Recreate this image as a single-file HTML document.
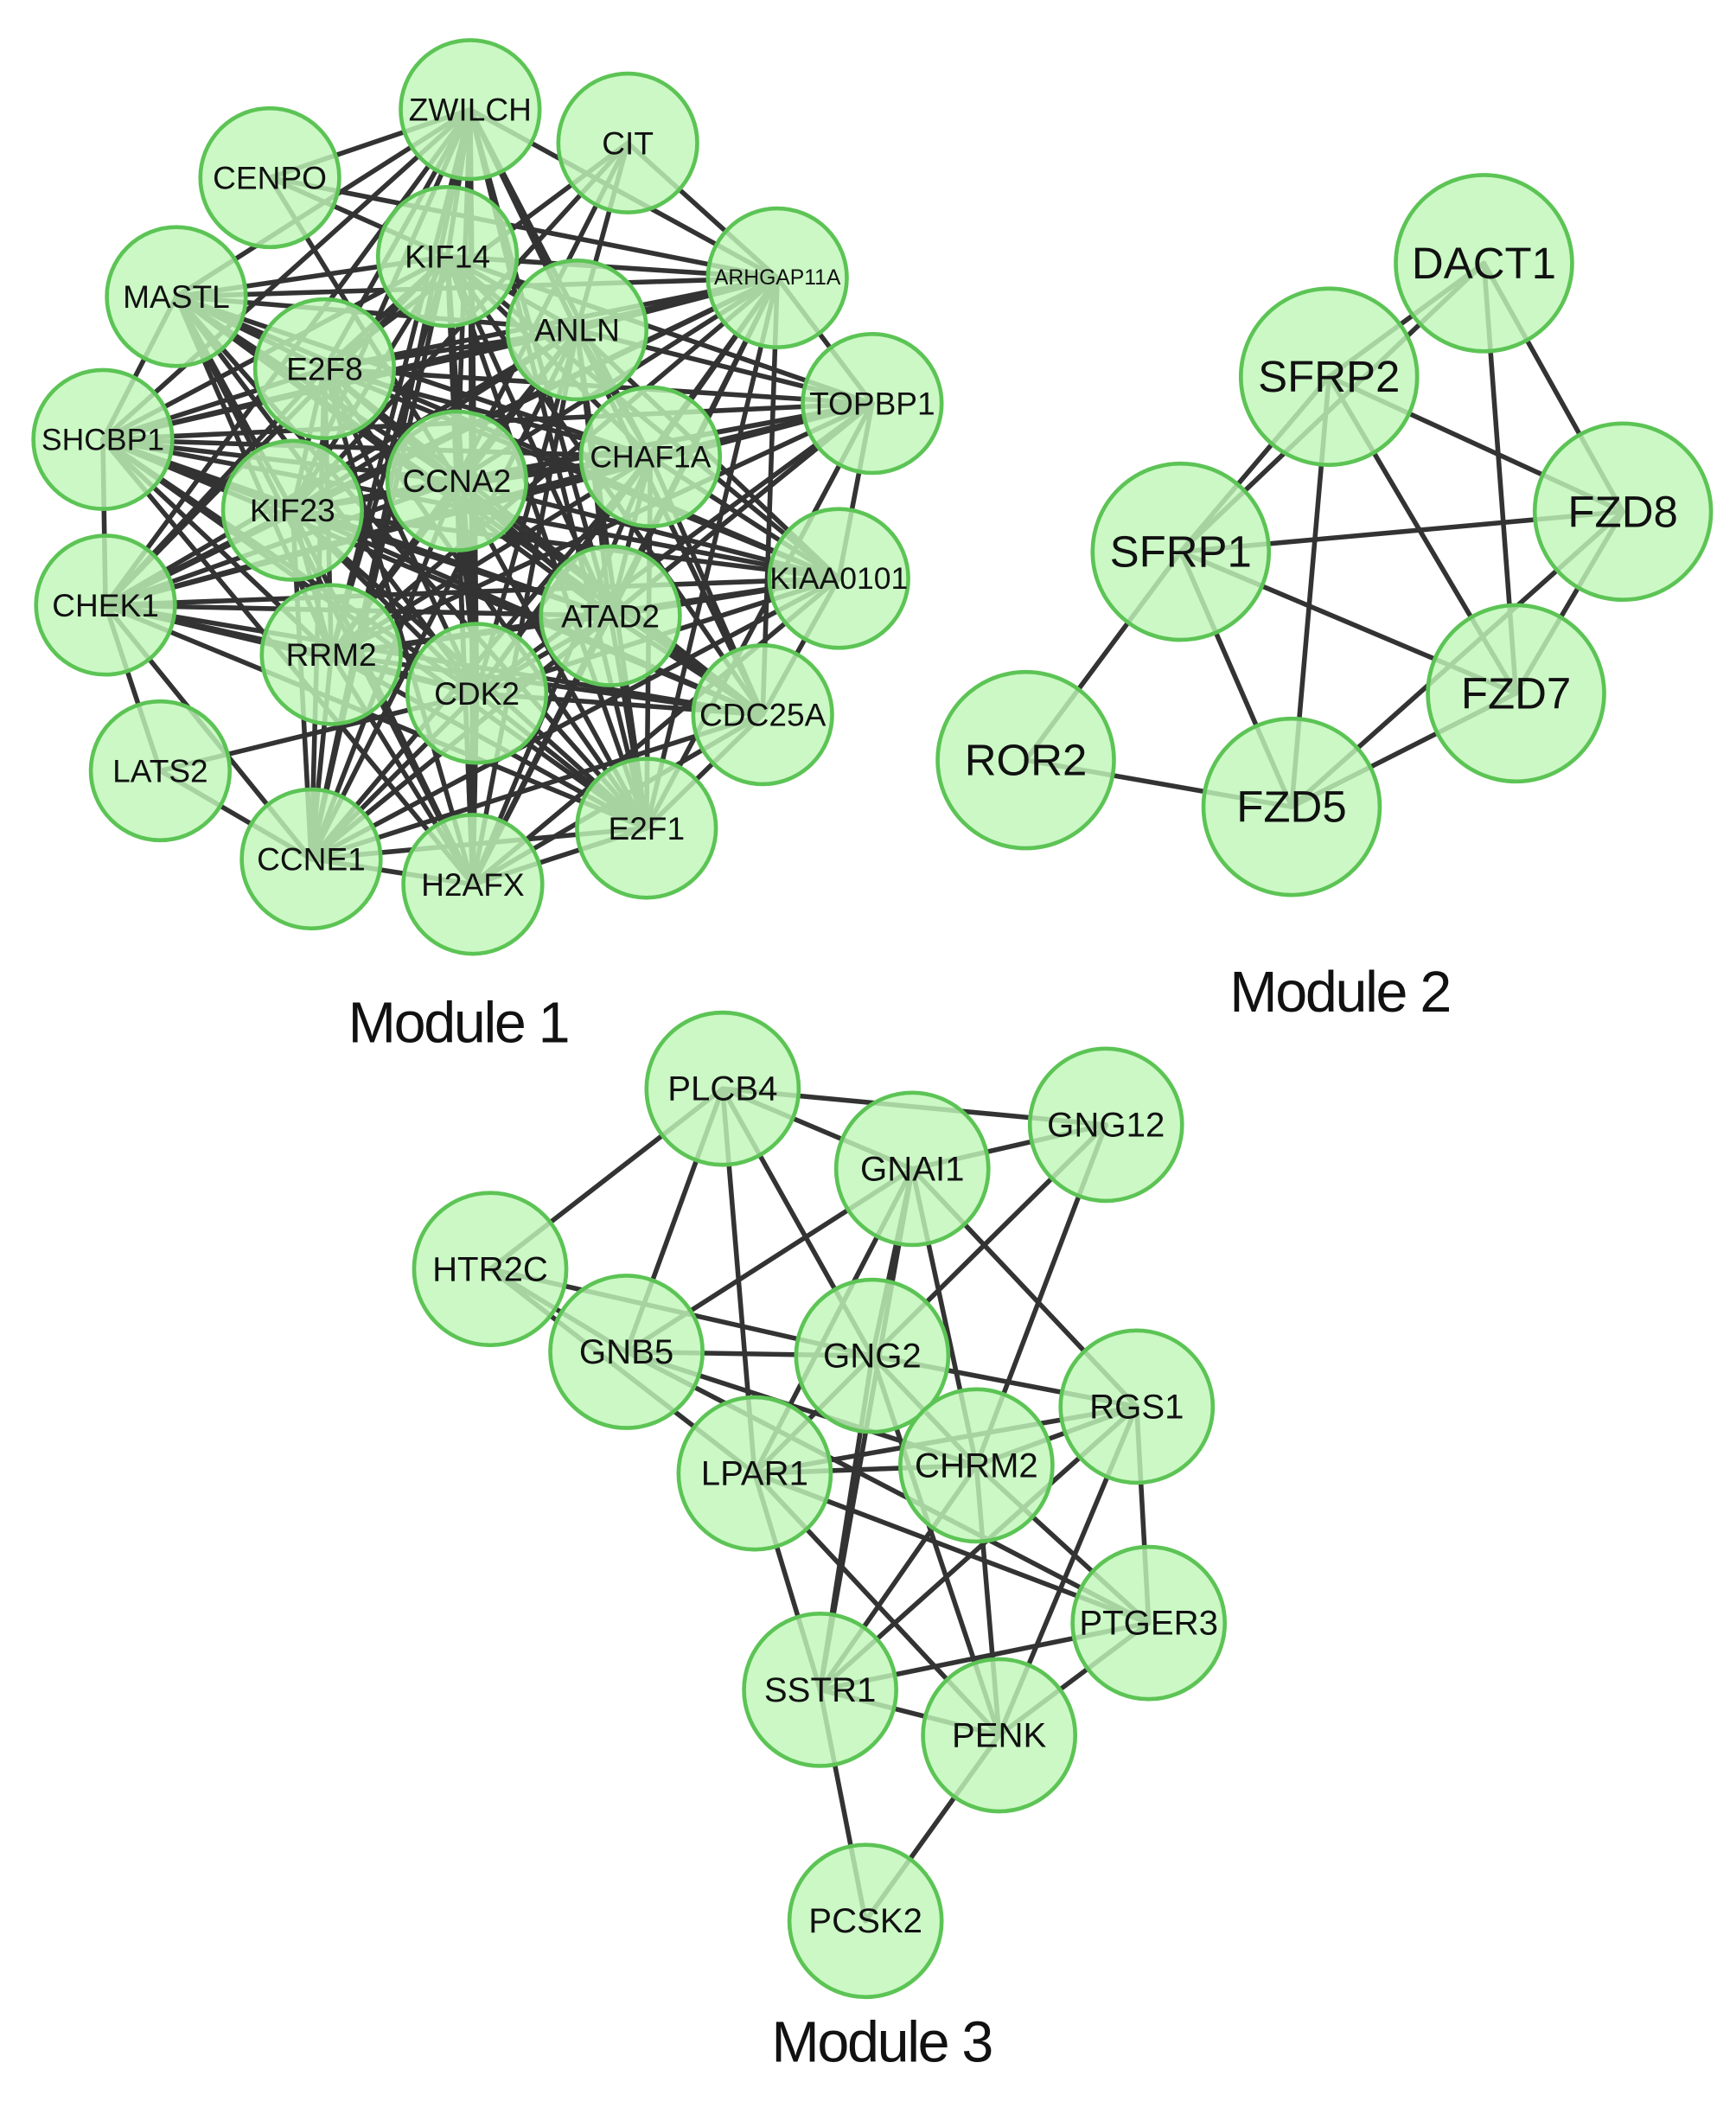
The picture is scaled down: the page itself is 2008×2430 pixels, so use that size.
<!DOCTYPE html>
<html><head><meta charset="utf-8"><style>
html,body{margin:0;padding:0;background:#fff;}
svg{display:block;}
text{font-family:"Liberation Sans",sans-serif;fill:#111;text-anchor:middle;dominant-baseline:central;}
</style></head><body>
<svg id="s" width="2008" height="2430" viewBox="0 0 1299.7 1572.8" xmlns="http://www.w3.org/2000/svg">
<rect width="1299.7" height="1572.8" fill="#fff"/>
<g id="e" stroke="#333" stroke-width="3.6" stroke-linecap="round"></g>
<g id="n"></g>
<text x="343" y="766" style="font-size:43px;letter-spacing:-1.5px">Module 1</text>
<text x="1003" y="743" style="font-size:43px;letter-spacing:-1.5px">Module 2</text>
<text x="660" y="1529" style="font-size:43px;letter-spacing:-1.5px">Module 3</text>
</svg>
<script>
var NS="http://www.w3.org/2000/svg";
var m1={ZWILCH:[352,82],CIT:[470,107],CENPO:[202,133],KIF14:[335,192],ARHGAP11A:[582,208],MASTL:[132,222],ANLN:[432,247],E2F8:[243,276],TOPBP1:[653,302],SHCBP1:[77,329],CHAF1A:[487,342],CCNA2:[342,360],KIF23:[219,382],KIAA0101:[628,433],CHEK1:[79,453],ATAD2:[457,461],RRM2:[248,490],CDK2:[357,519],CDC25A:[571,535],LATS2:[120,577],E2F1:[484,620],CCNE1:[233,643],H2AFX:[354,662]};
var m2={DACT1:[1111,197],SFRP2:[995,282],FZD8:[1215,383],SFRP1:[884,413],FZD7:[1135,519],ROR2:[768,569],FZD5:[967,604]};
var m3={PLCB4:[541,815],GNG12:[828,842],GNAI1:[683,875],HTR2C:[367,950],GNB5:[469,1012],GNG2:[653,1015],RGS1:[851,1053],LPAR1:[565,1103],CHRM2:[731,1097],PTGER3:[860,1215],SSTR1:[614,1265],PENK:[748,1299],PCSK2:[648,1438]};
var inner=["KIF14","ANLN","E2F8","CHAF1A","CCNA2","KIF23","ATAD2","RRM2","CDK2"];
var outer=["ZWILCH","ARHGAP11A","TOPBP1","SHCBP1","MASTL","KIAA0101","CHEK1","CDC25A","E2F1","CCNE1","H2AFX"];
var E1=[];
for(var i=0;i<inner.length;i++){for(var j=i+1;j<inner.length;j++)E1.push([inner[i],inner[j]]);for(var k=0;k<outer.length;k++)E1.push([inner[i],outer[k]]);}
("CENPO-ZWILCH CENPO-KIF14 CENPO-ARHGAP11A CENPO-CCNA2 CIT-ANLN CIT-KIF23 CIT-E2F8 CIT-CCNA2 CIT-ARHGAP11A LATS2-CHEK1 LATS2-CCNE1 LATS2-CDK2 "+
"MASTL-SHCBP1 SHCBP1-CHEK1 CHEK1-CCNE1 CCNE1-H2AFX H2AFX-E2F1 E2F1-CDC25A CDC25A-KIAA0101 KIAA0101-TOPBP1 TOPBP1-ARHGAP11A ZWILCH-ARHGAP11A ZWILCH-MASTL "+
"MASTL-ARHGAP11A SHCBP1-ARHGAP11A SHCBP1-TOPBP1 SHCBP1-KIAA0101 CHEK1-KIAA0101 CHEK1-CDC25A CHEK1-ARHGAP11A CHEK1-TOPBP1 ZWILCH-H2AFX ZWILCH-CCNE1 ZWILCH-E2F1 "+
"ZWILCH-CDC25A ZWILCH-SHCBP1 ZWILCH-CHEK1 ARHGAP11A-CDC25A ARHGAP11A-E2F1 ARHGAP11A-H2AFX TOPBP1-CCNE1 TOPBP1-E2F1 KIAA0101-CCNE1 KIAA0101-H2AFX MASTL-CDC25A "+
"MASTL-KIAA0101 MASTL-H2AFX MASTL-E2F1 SHCBP1-CDC25A SHCBP1-E2F1 CCNE1-CDC25A CCNE1-E2F1 H2AFX-CDC25A CHEK1-E2F1 SHCBP1-H2AFX").split(" ").forEach(function(s){E1.push(s.split("-"));});
var E2="DACT1-SFRP2 DACT1-SFRP1 DACT1-FZD7 DACT1-FZD8 SFRP2-SFRP1 SFRP2-FZD8 SFRP2-FZD7 SFRP2-FZD5 SFRP1-FZD8 SFRP1-FZD7 SFRP1-FZD5 SFRP1-ROR2 ROR2-FZD5 FZD5-FZD7 FZD5-FZD8 FZD7-FZD8".split(" ").map(function(s){return s.split("-");});
var E3="PLCB4-GNAI1 PLCB4-GNG12 PLCB4-HTR2C PLCB4-GNB5 PLCB4-LPAR1 PLCB4-GNG2 GNAI1-GNG12 GNAI1-GNB5 GNAI1-GNG2 GNAI1-LPAR1 GNAI1-CHRM2 GNAI1-RGS1 GNAI1-SSTR1 GNG12-GNG2 GNG12-CHRM2 HTR2C-GNG2 HTR2C-GNB5 HTR2C-LPAR1 GNB5-GNG2 GNB5-CHRM2 GNB5-PTGER3 GNG2-RGS1 GNG2-LPAR1 GNG2-CHRM2 GNG2-SSTR1 GNG2-PENK RGS1-LPAR1 RGS1-CHRM2 RGS1-PTGER3 RGS1-SSTR1 RGS1-PENK LPAR1-CHRM2 LPAR1-SSTR1 LPAR1-PENK LPAR1-PTGER3 CHRM2-SSTR1 CHRM2-PENK CHRM2-PTGER3 PTGER3-PENK PTGER3-SSTR1 SSTR1-PENK SSTR1-PCSK2 PENK-PCSK2".split(" ").map(function(s){return s.split("-");});
var eg=document.getElementById("e"),ng=document.getElementById("n");
function edges(M,E){E.forEach(function(p){var a=M[p[0]],b=M[p[1]];if(!a||!b)return;var l=document.createElementNS(NS,"line");l.setAttribute("x1",a[0]);l.setAttribute("y1",a[1]);l.setAttribute("x2",b[0]);l.setAttribute("y2",b[1]);eg.appendChild(l);});}
function nodes(M,r,fs){for(var k in M){var c=document.createElementNS(NS,"circle");c.setAttribute("cx",M[k][0]);c.setAttribute("cy",M[k][1]);c.setAttribute("r",r);c.setAttribute("fill","#bff7b8");c.setAttribute("fill-opacity","0.82");c.setAttribute("stroke","#5cc455");c.setAttribute("stroke-width","3");ng.appendChild(c);var t=document.createElementNS(NS,"text");t.setAttribute("x",M[k][0]);t.setAttribute("y",M[k][1]);var f=fs;if(k=="ARHGAP11A")f=16;if(k=="KIAA0101"||k=="SHCBP1"||k=="CHAF1A")f=fs-1;t.setAttribute("style","font-size:"+f+"px");t.textContent=k;ng.appendChild(t);}}
edges(m1,E1);edges(m2,E2);edges(m3,E3);
nodes(m1,52,24);nodes(m2,66,33);nodes(m3,57,26);
</script>
</body></html>
